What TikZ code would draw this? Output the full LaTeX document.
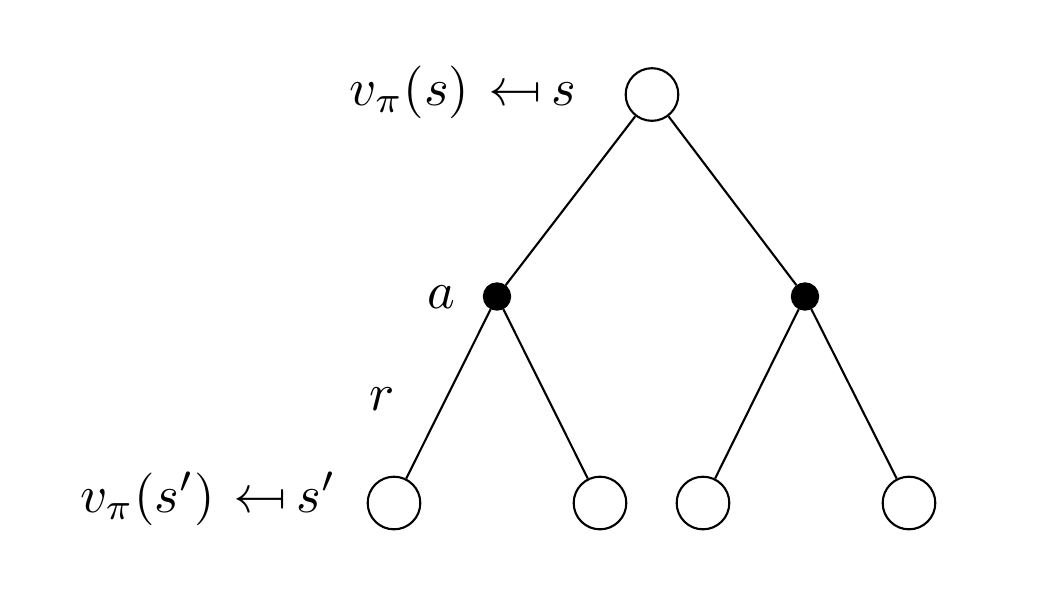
\documentclass[tikz,border=0pt]{standalone}
\usepackage{graphicx}
\newcommand{\mymapsfrom}{\mathrel{\mkern1.5mu\reflectbox{$\mapsto$}\mkern-1.5mu}}
\tikzset{
  state/.style={circle,draw,line width=0.4pt,minimum size=10pt,inner sep=0pt},
  action/.style={circle,fill=black,draw,line width=0.4pt,minimum size=5pt,inner sep=0pt},
  lbl/.style={inner sep=0pt,font=\normalsize},
  edge/.style={line width=0.4pt}
}
\begin{document}
\begin{tikzpicture}[x=0.19pt,y=-0.19pt]
\useasboundingbox (0,0) rectangle (1064,598);
\node[state]  (s)   at (652,94.5) {};
\node[action] (a1)  at (497,296.5) {};
\node[action] (a2)  at (805,296.5) {};
\node[state]  (b1)  at (394,503) {};
\node[state]  (b2)  at (600,503) {};
\node[state]  (b3)  at (703,503) {};
\node[state]  (b4)  at (909,503) {};
\draw[edge] (s) -- (a1);
\draw[edge] (s) -- (a2);
\draw[edge] (a1) -- (b1);
\draw[edge] (a1) -- (b2);
\draw[edge] (a2) -- (b3);
\draw[edge] (a2) -- (b4);
\node[lbl,anchor=base east] (ltop) at (577,105) {$v_\pi(s) \mymapsfrom s$};
\node[lbl,anchor=base east] (lbot) at (337,512) {$v_\pi(s') \mymapsfrom s'$};
\node[lbl,anchor=base] (la) at (441,308) {$a$};
\node[lbl,anchor=base] (lr) at (382,410) {$r$};
\end{tikzpicture}
\end{document}
